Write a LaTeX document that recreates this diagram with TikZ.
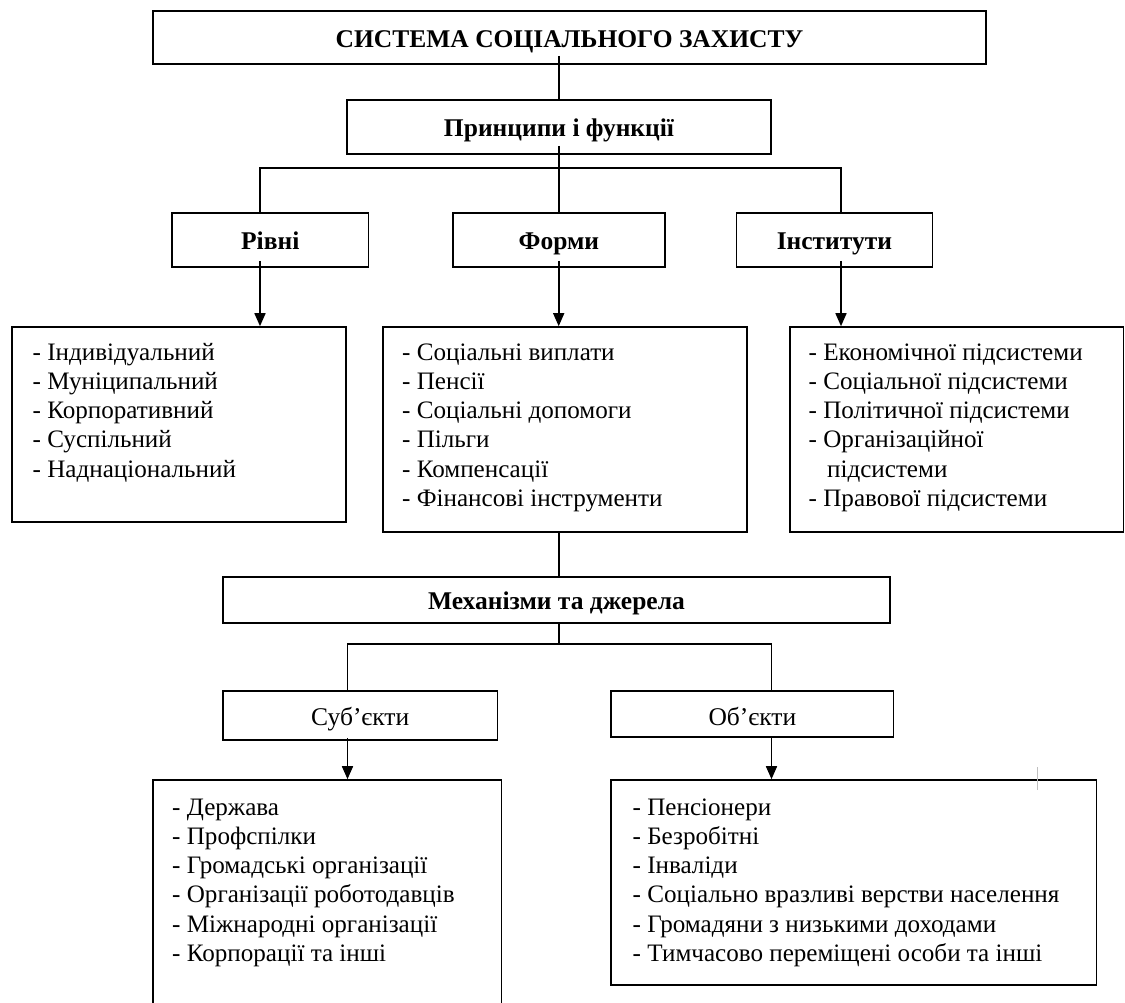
\documentclass[tikz,border=0pt]{standalone}
\usepackage{fontspec}
\setmainfont{Liberation Serif}
\usetikzlibrary{arrows.meta}
\begin{document}
\begin{tikzpicture}[x=1pt,y=-1pt,
  box/.style={draw, line width=1.6pt, rectangle, inner sep=0pt},
  head/.style={box, text height=19.5pt, text depth=0pt, font=\fontsize{25.5}{28}\selectfont\bfseries},
  plain/.style={box, text height=19.5pt, text depth=0pt, font=\fontsize{25.5}{28}\selectfont},
  listtxt/.style={anchor=base west, inner sep=0pt, font=\fontsize{25.1}{29.3}\selectfont},
  conn/.style={line width=1.6pt},
  arr/.style={conn, -{Triangle[length=13pt,width=11pt]}}
]
\useasboundingbox (0,0) rectangle (1125,1003);
% boxes
\node[head, minimum width=833pt, minimum height=53pt] (top) at (569.5,37.5) {СИСТЕМА СОЦІАЛЬНОГО ЗАХИСТУ};
\node[head, minimum width=424pt, minimum height=54pt] (prin) at (559,127) {Принципи і функції};
\node[head, minimum width=196.5pt, minimum height=54pt] (rivni) at (270.25,240) {Рівні};
\node[head, minimum width=211.8pt, minimum height=54pt] (formy) at (558.9,240) {Форми};
\node[head, minimum width=196.2pt, minimum height=54pt] (inst) at (834.4,240) {Інститути};
\node[box, minimum width=334pt, minimum height=195pt] (lbox) at (179,424.5) {};
\node[box, minimum width=364pt, minimum height=205pt] (mbox) at (565,429.5) {};
\node[box, minimum width=333.5pt, minimum height=205pt] (rbox) at (956.7,429.5) {};
\node[head, minimum width=667pt, minimum height=46pt] (mech) at (556.5,600) {Механізми та джерела};
\node[plain, minimum width=274.5pt, minimum height=49pt] (subj) at (360.25,715.5) {Суб’єкти};
\node[plain, text height=22.5pt, minimum width=282.4pt, minimum height=46pt] (obj) at (752.4,714) {Об’єкти};
\node[box, minimum width=348.3pt, minimum height=240pt] (sbox) at (327.15,900) {};
\node[box, minimum width=485.4pt, minimum height=205pt] (obox) at (853.7,882.5) {};
% list texts
\node[listtxt] (ltxt) at (32.5,360) {\parbox[t]{300pt}{- Індивідуальний\\- Муніципальний\\- Корпоративний\\- Суспільний\\- Наднаціональний}};
\node[listtxt] (mtxt) at (402,360) {\parbox[t]{340pt}{- Соціальні виплати\\- Пенсії\\- Соціальні допомоги\\- Пільги\\- Компенсації\\- Фінансові інструменти}};
\node[listtxt] (rtxt) at (808.5,360) {\parbox[t]{300pt}{- Економічної підсистеми\\- Соціальної підсистеми\\- Політичної підсистеми\\- Організаційної\\\hspace*{18.4pt}підсистеми\\- Правової підсистеми}};
\node[listtxt] (stxt) at (172,815) {\parbox[t]{320pt}{- Держава\\- Профспілки\\- Громадські організації\\- Організації роботодавців\\- Міжнародні організації\\- Корпорації та інші}};
\node[listtxt] (otxt) at (632.5,815) {\parbox[t]{450pt}{- Пенсіонери\\- Безробітні\\- Інваліди\\- Соціально вразливі верстви населення\\- Громадяни з низькими доходами\\- Тимчасово переміщені особи та інші}};
% connector x/y positions
\coordinate (xa) at (558.7,0);
\coordinate (xl) at (260,0);
\coordinate (xr) at (841,0);
\coordinate (xs) at (347.5,0);
\coordinate (xo) at (771.5,0);
\coordinate (hb) at (0,168);
\coordinate (hc) at (0,644);
% connectors
\draw[conn] ([yshift=9pt]top.south -| xa) -- (prin.north -| xa);
\draw[conn] ([yshift=9pt]prin.south -| xa) -- (formy.north -| xa);
\draw[conn] (rivni.north -| xl) -- (xl |- hb) -- (xr |- hb) -- (inst.north -| xr);
\draw[arr] ([yshift=7pt]rivni.south -| xl) -- (lbox.north -| xl);
\draw[arr] ([yshift=7pt]formy.south -| xa) -- (mbox.north -| xa);
\draw[arr] ([yshift=7pt]inst.south -| xr) -- (rbox.north -| xr);
\draw[conn] (mbox.south -| xa) -- (mech.north -| xa);
\draw[conn] (mech.south -| xa) -- (xa |- hc);
\draw[conn] (subj.north -| xs) -- (xs |- hc) -- (xo |- hc) -- (obj.north -| xo);
\draw[arr] ([yshift=3pt]subj.south -| xs) -- (sbox.north -| xs);
\draw[arr] (obj.south -| xo) -- (obox.north -| xo);
% stray mark
\coordinate (m1) at (1037.7,767);
\coordinate (m2) at (1037.7,790);
\draw[gray!50, line width=1.2pt] (m1) -- (m2);
\end{tikzpicture}
\end{document}
